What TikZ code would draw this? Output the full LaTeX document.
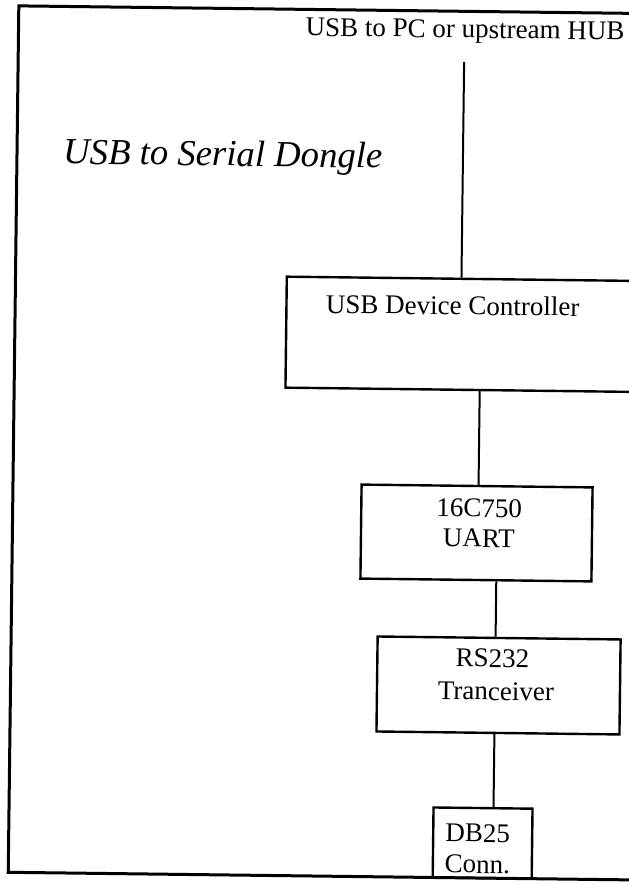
\documentclass[tikz,border=0pt]{standalone}
\usepackage{fontspec}
\setmainfont{Liberation Serif}
\begin{document}
\begin{tikzpicture}[x=1pt,y=-1pt,
  frameline/.style={line width=3pt},
  blockbox/.style={draw, rectangle, line width=2.4pt, inner sep=0pt},
  wire/.style={line width=2pt},
  lbl/.style={font=\fontsize{27}{30}\selectfont, inner sep=0pt, anchor=base},
  headline/.style={font=\fontsize{36.7}{40}\selectfont\itshape, inner sep=0pt, anchor=base west},
]
\useasboundingbox (0,0) rectangle (629,884);
\clip (0,0) rectangle (629,884);
\fill[white] (0,0) rectangle (629,884);

\begin{scope}[rotate around={-0.7:(314,442)}, transform shape]
  % outer frame (runs off the right edge)
  \draw[frameline] (13.5,9.5) rectangle (720,876);

  % headings
  \node[lbl] (hub) at (460,36) {USB to PC or upstream HUB};
  \node[headline] (title) at (59.6,167) {USB to Serial Dongle};

  % blocks
  \node[blockbox, minimum width=415pt, minimum height=111pt] (ctrl) at (492.3,332.5) {};
  \node[lbl] (ctrltext) at (451,313) {USB Device Controller};

  \node[blockbox, minimum width=231pt, minimum height=94pt] (uart) at (477.6,531) {};
  \node[lbl] (uarta) at (480,515) {16C750};
  \node[lbl] (uartb) at (480,545) {UART};

  \node[blockbox, minimum width=243pt, minimum height=95pt] (rs) at (501.5,683.2) {};
  \node[lbl] (rsa) at (495,665) {RS232};
  \node[lbl] (rsb) at (499,698) {Tranceiver};

  \node[blockbox, minimum width=99pt, minimum height=70pt] (db) at (487.5,841) {};
  \node[lbl] (dba) at (482.5,840) {DB25};
  \node[lbl] (dbb) at (482.5,871) {Conn.};

  % connections
  \coordinate (hubend) at (459.5,60);
  \draw[wire] (hubend) -- (hubend |- ctrl.north);
  \draw[wire] ([xshift=1.5pt]ctrl.south -| uart.north) -- ([xshift=1.5pt]uart.north);
  \draw[wire] ([xshift=-3.5pt]rs.north |- uart.south) -- ([xshift=-3.5pt]rs.north);
  \draw[wire] ([xshift=-3.5pt]rs.south) -- ([xshift=-3.5pt]rs.south |- db.north);
\end{scope}
\end{tikzpicture}
\end{document}
